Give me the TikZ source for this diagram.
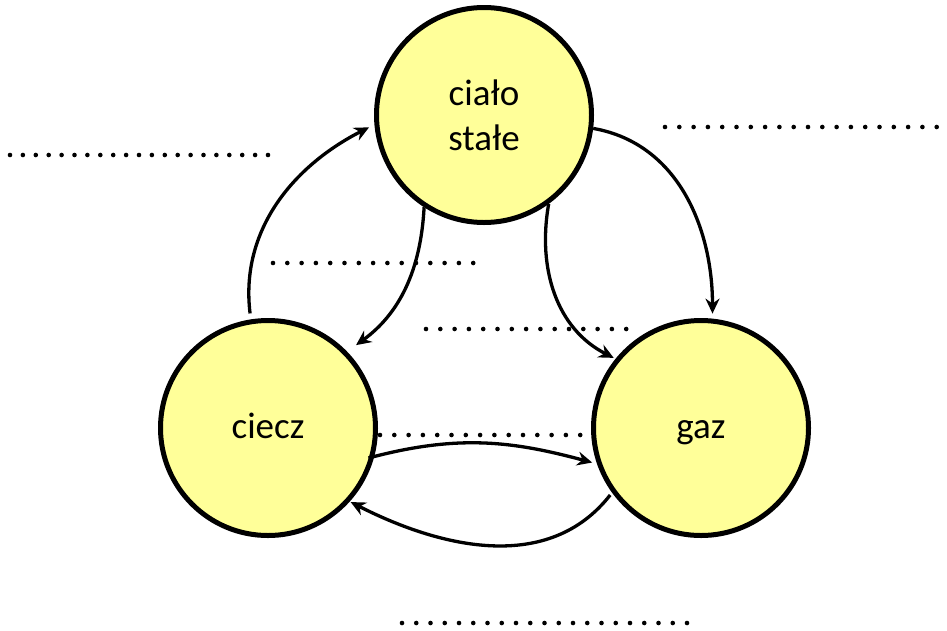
\documentclass[tikz,border=0pt]{standalone}
\usepackage{fontspec}
\setmainfont{Carlito}
\usetikzlibrary{arrows.meta}
\definecolor{stfill}{HTML}{FFFF99}
\begin{document}
\begin{tikzpicture}[x=1pt,y=-1pt,
  state/.style={circle,draw,line width=5pt,fill=stfill,minimum size=215pt,inner sep=0pt,align=center,font=\fontsize{37}{45}\selectfont},
  oneline/.style={text height=20pt,text depth=0pt},
  conn/.style={line width=3.3pt,-{Stealth[length=15pt,width=14pt,inset=5pt]}}]
\useasboundingbox (0,0) rectangle (947,630);
\node[state] (T) at (484,115) {ciało\\stałe};
\node[state,oneline] (L) at (268,428) {ciecz};
\node[state,oneline] (R) at (701,428) {gaz};
% dotted placeholders
\foreach \i in {0,...,20} \fill ({10+\i*12.9},155) circle (2.3pt);
\foreach \i in {0,...,19} \fill ({665+\i*14.3},127) circle (2.3pt);
\foreach \i in {0,...,20} \fill ({402+\i*14.25},623) circle (2.3pt);
\foreach \i in {0,...,14} \fill ({273+\i*14.3},263) circle (2.3pt);
\foreach \i in {0,...,14} \fill ({426+\i*14.3},329) circle (2.3pt);
\foreach \i in {0,...,14} \fill ({380+\i*14.3},435) circle (2.3pt);
% transitions
\draw[conn, shorten <=6pt, shorten >=6pt] (L.99) to[out=97,in=207] (T.185);
\draw[conn, shorten >=11pt] (T.237) to[out=267,in=36] (L.44);
\draw[conn, shorten >=2pt] (T.-54) to[out=260,in=153] (R.141);
\draw[conn, shorten >=5pt] (T.-7) to[out=-10,in=90] (R.84);
\draw[conn, shorten <=-6pt, shorten >=5pt] (L.-15) to[out=15,in=165] (R.199);
\draw[conn, shorten <=3pt, shorten >=1pt] (R.216) to[out=232,in=333] (L.-42);
\end{tikzpicture}
\end{document}
